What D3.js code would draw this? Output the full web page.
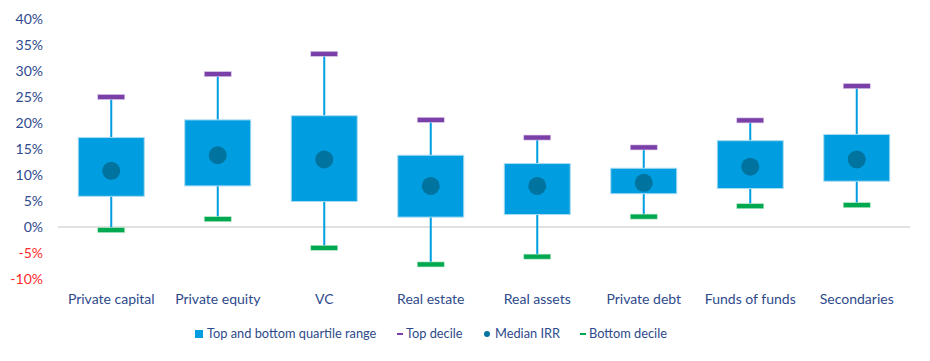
<!DOCTYPE html>
<html>
<head>
<meta charset="utf-8">
<script src="https://cdn.jsdelivr.net/npm/d3@7"></script>
<style>
  body { margin: 0; background: #fff; }
  text { font-family: Lato, "Open Sans", sans-serif; }
</style>
</head>
<body>
<div id="chart"></div>
<script>
// data, in percent
const categories = ["Private capital", "Private equity", "VC", "Real estate", "Real assets", "Private debt", "Funds of funds", "Secondaries"];
const topDecile = [25.0, 29.4, 33.3, 20.6, 17.2, 15.3, 20.5, 27.1];
const topQuartile = [17.2, 20.6, 21.4, 13.8, 12.2, 11.3, 16.6, 17.8];
const medianIRR = [10.8, 13.8, 13.0, 7.9, 7.9, 8.5, 11.6, 13.0];
const bottomQuartile = [5.9, 7.9, 4.9, 1.9, 2.4, 6.4, 7.4, 8.8];
const bottomDecile = [-0.6, 1.5, -4.0, -7.2, -5.7, 2.0, 4.0, 4.2];
const yTicks = [-10, -5, 0, 5, 10, 15, 20, 25, 30, 35, 40];
const legendLabels = ["Top and bottom quartile range", "Top decile", "Median IRR", "Bottom decile"];

const W = 930, H = 361;
const margin = { top: 19, right: 20, bottom: 82, left: 58 };
const width = W - margin.left - margin.right;
const height = H - margin.top - margin.bottom;

const blue = "#009ee0", dark = "#00739f", purple = "#7b3fa8", green = "#00a84f", textCol = "#2e4a8c";

const rows = categories.map((c, i) => ({
  cat: c, top: topDecile[i], q3: topQuartile[i], med: medianIRR[i], q1: bottomQuartile[i], bot: bottomDecile[i]
}));

const svg = d3.select("#chart").append("svg")
  .attr("width", W).attr("height", H)
  .append("g")
  .attr("transform", `translate(${margin.left},${margin.top})`);

const x = d3.scaleBand().domain(categories).range([0, width]).padding(0);
const y = d3.scaleLinear().domain([-10, 40]).range([height, 0]);

// y axis labels
svg.append("g")
  .call(d3.axisLeft(y).tickValues(yTicks).tickFormat(d => d + "%").tickSize(0).tickPadding(15))
  .call(g => g.select(".domain").remove())
  .selectAll("text")
  .style("font-size", "14px")
  .attr("fill", d => d < 0 ? "#ff2a2a" : textCol);

// zero line
svg.append("line")
  .attr("x1", 0).attr("x2", width)
  .attr("y1", y(0)).attr("y2", y(0))
  .attr("stroke", "#d9d9d9").attr("stroke-width", 1.5);

const boxW = 66, capW = 27, capH = 5;

const groups = svg.selectAll(".cat").data(rows).enter().append("g")
  .attr("transform", d => `translate(${x(d.cat) + x.bandwidth() / 2},0)`);

groups.append("line")
  .attr("x1", 0).attr("x2", 0)
  .attr("y1", d => y(d.top)).attr("y2", d => y(d.bot))
  .attr("stroke", blue).attr("stroke-width", 2);

groups.append("rect")
  .attr("x", -boxW / 2).attr("width", boxW)
  .attr("y", d => y(d.q3)).attr("height", d => y(d.q1) - y(d.q3))
  .attr("fill", blue).attr("stroke", "#a9dcf3").attr("stroke-width", 1);

groups.append("rect")
  .attr("x", -capW / 2).attr("width", capW)
  .attr("y", d => y(d.top) - capH / 2).attr("height", capH)
  .attr("fill", purple).attr("stroke", "#d8c6ea").attr("stroke-width", 0.6);

groups.append("rect")
  .attr("x", -capW / 2).attr("width", capW)
  .attr("y", d => y(d.bot) - capH / 2).attr("height", capH)
  .attr("fill", green).attr("stroke", "#b8e6c8").attr("stroke-width", 0.6);

groups.append("circle")
  .attr("cy", d => y(d.med)).attr("r", 9)
  .attr("fill", dark);

// category labels
svg.append("g")
  .attr("transform", `translate(0,${height})`)
  .call(d3.axisBottom(x).tickSize(0).tickPadding(15))
  .call(g => g.select(".domain").remove())
  .selectAll("text")
  .style("font-size", "14px")
  .attr("fill", textCol);

// legend
const legend = d3.select("#chart svg").append("g").attr("transform", "translate(0,334)");
const legX = [195, 397, 483, 580];
legendLabels.forEach((lab, i) => {
  const g = legend.append("g").attr("transform", `translate(${legX[i]},0)`);
  if (i === 0) g.append("rect").attr("x", 0).attr("y", -4).attr("width", 8).attr("height", 8).attr("fill", blue);
  if (i === 1) g.append("rect").attr("x", 0).attr("y", -1).attr("width", 6).attr("height", 2).attr("fill", purple);
  if (i === 2) g.append("circle").attr("cx", 4).attr("cy", 0).attr("r", 3).attr("fill", dark);
  if (i === 3) g.append("rect").attr("x", 0).attr("y", -1).attr("width", 6).attr("height", 2).attr("fill", green);
  g.append("text")
    .attr("x", i === 0 ? 12 : i === 2 ? 12 : 9)
    .attr("dy", "0.35em")
    .style("font-size", "12.8px")
    .attr("fill", textCol)
    .text(lab);
});
</script>
</body>
</html>
